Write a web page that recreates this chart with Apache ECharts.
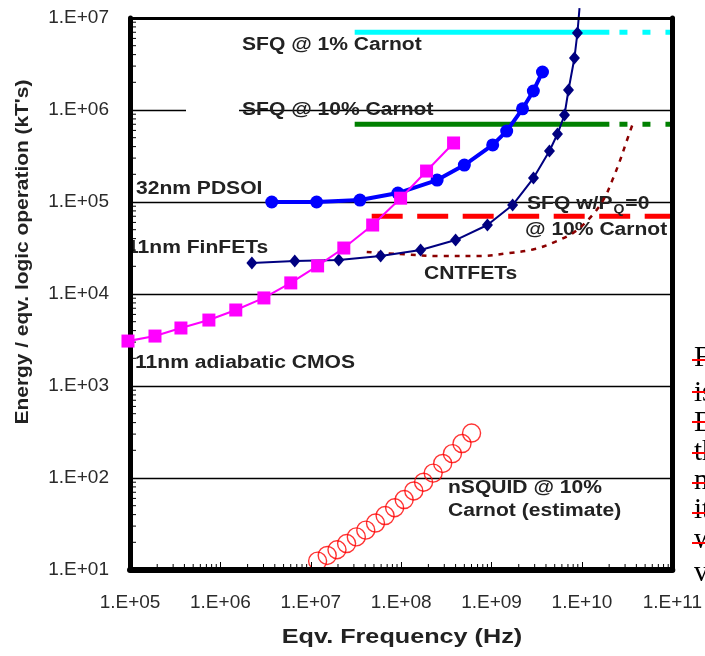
<!DOCTYPE html>
<html><head><meta charset="utf-8">
<script src="https://cdn.jsdelivr.net/npm/echarts@6/dist/echarts.min.js"></script>
<style>html,body{margin:0;padding:0;background:#fff}#c{width:705px;height:656px}</style>
</head><body><div id="c"></div>
<script>
// ---- data ----
const xTickLabels = ['1.E+05','1.E+06','1.E+07','1.E+08','1.E+09','1.E+10','1.E+11'];
const yTickLabels = ['1.E+01','1.E+02','1.E+03','1.E+04','1.E+05','1.E+06','1.E+07'];

const pdsoiFreq   = [3.7e6, 1.16e7, 3.5e7, 9.2e7, 2.5e8, 5.0e8, 1.03e9, 1.47e9, 2.2e9, 2.9e9, 3.66e9];
const pdsoiEnergy = [1.0e5, 1.0e5, 1.05e5, 1.25e5, 1.73e5, 2.52e5, 4.17e5, 5.9e5, 1.03e6, 1.61e6, 2.59e6];

const finfetFreq   = [2.23e6, 6.65e6, 2.04e7, 5.93e7, 1.64e8, 4.0e8, 9.0e8, 1.71e9, 2.91e9, 4.37e9, 5.36e9, 6.41e9, 7.1e9, 8.26e9, 8.91e9];
const finfetEnergy = [2.17e4, 2.29e4, 2.34e4, 2.59e4, 3.01e4, 3.86e4, 5.62e4, 9.27e4, 1.82e5, 3.58e5, 5.48e5, 8.83e5, 1.65e6, 3.67e6, 6.87e6];
const finfetTail   = [9.4e9, 1.28e7];

const cmosFreq   = [9.5e4, 1.89e5, 3.66e5, 7.46e5, 1.48e6, 3.03e6, 6.01e6, 1.19e7, 2.32e7, 4.84e7, 9.86e7, 1.91e8, 3.8e8];
const cmosEnergy = [3.08e3, 3.49e3, 4.27e3, 5.21e3, 6.7e3, 9.06e3, 1.32e4, 2.02e4, 3.16e4, 5.62e4, 1.1e5, 2.17e5, 4.38e5];

const cntFreq   = [4.16e7, 9.6e7, 2.66e8, 7.4e8, 1.58e9, 3.0e9, 4.97e9, 8.26e9, 1.31e10, 1.77e10, 2.17e10, 2.6e10, 3.1e10, 3.71e10];
const cntEnergy = [2.86e4, 2.72e4, 2.59e4, 2.59e4, 2.79e4, 3.08e4, 3.67e4, 4.72e4, 7.23e4, 1.1e5, 1.73e5, 2.72e5, 4.49e5, 7.41e5];

const nsquidFreq   = [1.19e7, 1.52e7, 1.95e7, 2.49e7, 3.19e7, 4.06e7, 5.2e7, 6.64e7, 8.47e7, 1.08e8, 1.38e8, 1.77e8, 2.26e8, 2.88e8, 3.69e8, 4.71e8, 6.01e8];
const nsquidEnergy = [12.5, 14.4, 16.6, 19.4, 22.9, 27.1, 32.4, 39.1, 47.5, 58.3, 72.3, 90, 113, 144, 184, 237, 308];

const sfq1Level = 7e6, sfq10Level = 7e5, sfqPq0Level = 7e4;
const sfqSolidFreq = [3.06e7, 2.01e10];
const sfqDashFreq  = [2.6e10, 1e11];
const sfqPq0Freq   = [4.72e7, 1e11];

// ---- helpers ----
const pair = (xs, ys) => xs.map((x, i) => [x, ys[i]]);
const expLabel = (labels, base) => v => labels[Math.round(Math.log10(v)) - base] || '';
const yMinor = [], xMinor = [];
for (let d = 1; d < 7; d++) for (let m = 2; m < 10; m++) yMinor.push(m * Math.pow(10, d));
for (let d = 5; d < 11; d++) for (let m = 2; m < 10; m++) xMinor.push(m * Math.pow(10, d));

const mctx = document.createElement('canvas').getContext('2d');
const tw = (t, f) => { mctx.font = f; return mctx.measureText(t).width; };

const BF = 'bold 18px "Liberation Sans", Arial, sans-serif';
const SX = 1.17;
const TXT = '#222';
function label(text, x, y, opts) {
  return Object.assign({
    type: 'text', x: x, y: y, scaleX: SX, z: 3,
    style: { text: text, font: BF, fill: TXT, textAlign: 'left', align: 'left', textVerticalAlign: 'middle', verticalAlign: 'middle' }
  }, opts || {});
}

const graphics = [
  { type: 'rect', shape: { x: 186, y: 107, width: 53, height: 6 }, style: { fill: '#fff' }, z: 1 },
  label('SFQ @ 1% Carnot', 242, 45),
  label('SFQ @ 10% Carnot', 242, 110),
  label('32nm PDSOI', 136, 189),
  label('11nm FinFETs', 127, 248),
  label('11nm adiabatic CMOS', 135, 363),
  label('CNTFETs', 424, 274),
  label('@ 10% Carnot', 525, 230),
  label('nSQUID @ 10%', 448, 488),
  label('Carnot (estimate)', 448, 511)
];
// SFQ w/PQ=0 with subscript
(function () {
  const x0 = 527, y0 = 204;
  const w1 = tw('SFQ w/P', BF) * SX;
  const SF = 'bold 12px "Liberation Sans", Arial, sans-serif';
  const wq = tw('Q', SF) * SX;
  graphics.push(label('SFQ w/P', x0, y0));
  graphics.push({ type: 'text', x: x0 + w1 + 1, y: y0 + 6, scaleX: SX, z: 3,
    style: { text: 'Q', font: SF, fill: TXT, textAlign: 'left', align: 'left', textVerticalAlign: 'middle', verticalAlign: 'middle' } });
  graphics.push(label('=0', x0 + w1 + wq + 2, y0));
})();
// axis titles
graphics.push({ type: 'text', x: 23, y: 252, rotation: Math.PI / 2, scaleX: 1.1, z: 3,
  style: { text: "Energy / eqv. logic operation (kT's)", font: 'bold 19px "Liberation Sans", Arial, sans-serif', fill: TXT,
    textAlign: 'center', align: 'center', textVerticalAlign: 'middle', verticalAlign: 'middle' } });
graphics.push({ type: 'text', x: 402, y: 637, scaleX: 1.26, z: 3,
  style: { text: 'Eqv. Frequency (Hz)', font: 'bold 20px "Liberation Sans", Arial, sans-serif', fill: TXT,
    textAlign: 'center', align: 'center', textVerticalAlign: 'middle', verticalAlign: 'middle' } });
// fragment of document text at the right edge (baseline, strike y)
const docRows = [['F', 368, 360], ['is', 403, 392], ['E', 433, 422], ['th', 462, 453], ['n', 491, 483], ['it', 520, 513], ['w', 550, 543], ['v', 583, null]];
docRows.forEach(r => {
  graphics.push({ type: 'text', x: 694, y: r[1] - 10, z: 3,
    style: { text: r[0], font: '29px "Liberation Serif", "Times New Roman", serif', fill: '#000', textAlign: 'left', align: 'left', textVerticalAlign: 'middle', verticalAlign: 'middle' } });
  if (r[2] !== null) graphics.push({ type: 'line', shape: { x1: 692, y1: r[2], x2: 705, y2: r[2] }, style: { stroke: '#ff0000', lineWidth: 2 }, z: 4 });
});

const chart = echarts.init(document.getElementById('c'), null, { renderer: 'canvas' });
const axisFont = { fontSize: 19, fontFamily: '"Liberation Sans", Arial, sans-serif', color: '#2a2a2a' };

const option = {
  animation: false,
  backgroundColor: '#fff',
  grid: { left: 130, right: 32, top: 18, bottom: 86 },
  xAxis: [
    { type: 'log', min: 1e5, max: 1e11, position: 'bottom', z: 6,
      axisLine: { show: true, lineStyle: { color: '#000', width: 6 } },
      axisTick: { show: true, inside: true, length: 8, lineStyle: { color: '#000', width: 1 } },
      axisLabel: Object.assign({ formatter: expLabel(xTickLabels, 5), margin: 23, showMinLabel: true, showMaxLabel: true }, axisFont),
      splitLine: { show: false }, minorTick: { show: false } },
    { type: 'log', min: 1e5, max: 1e11, position: 'top', z: 6,
      axisLine: { show: true, lineStyle: { color: '#000', width: 3 } },
      axisTick: { show: false }, axisLabel: { show: false }, splitLine: { show: false } }
  ],
  yAxis: [
    { type: 'log', min: 10, max: 1e7, position: 'left', z: 0,
      axisLine: { show: false }, axisTick: { show: false }, axisLabel: { show: false },
      splitLine: { show: true, lineStyle: { color: '#000', width: 1.3 } } },
    { type: 'log', min: 10, max: 1e7, position: 'left', z: 6,
      axisLine: { show: true, lineStyle: { color: '#000', width: 5 } },
      axisTick: { show: true, inside: true, length: 8, lineStyle: { color: '#000', width: 1 } },
      axisLabel: Object.assign({ formatter: expLabel(yTickLabels, 1), margin: 21, showMinLabel: true, showMaxLabel: true }, axisFont),
      splitLine: { show: false } },
    { type: 'log', min: 10, max: 1e7, position: 'right', z: 6,
      axisLine: { show: true, lineStyle: { color: '#000', width: 5 } },
      axisTick: { show: false }, axisLabel: { show: false }, splitLine: { show: false } }
  ],
  graphic: { elements: graphics },
  series: [
    // minor ticks
    { type: 'custom', silent: true, z: 6, data: yMinor.map(v => [1e5, v]),
      renderItem: (p, api) => { const c = api.coord([api.value(0), api.value(1)]);
        return { type: 'line', shape: { x1: c[0], y1: c[1], x2: c[0] + 6, y2: c[1] }, style: { stroke: '#000', lineWidth: 1 } }; } },
    { type: 'custom', silent: true, z: 6, data: xMinor.map(v => [v, 10]),
      renderItem: (p, api) => { const c = api.coord([api.value(0), api.value(1)]);
        return { type: 'line', shape: { x1: c[0], y1: c[1], x2: c[0], y2: c[1] - 6 }, style: { stroke: '#000', lineWidth: 1 } }; } },
    // SFQ levels
    { name: 'SFQ @ 1% Carnot', type: 'line', z: 2, symbol: 'none', data: sfqSolidFreq.map(f => [f, sfq1Level]),
      lineStyle: { color: '#00FFFF', width: 5 } },
    { type: 'line', z: 2, symbol: 'none', data: sfqDashFreq.map(f => [f, sfq1Level]),
      lineStyle: { color: '#00FFFF', width: 5, type: [8, 15] } },
    { name: 'SFQ @ 10% Carnot', type: 'line', z: 2, symbol: 'none', data: sfqSolidFreq.map(f => [f, sfq10Level]),
      lineStyle: { color: '#008000', width: 5 } },
    { type: 'line', z: 2, symbol: 'none', data: sfqDashFreq.map(f => [f, sfq10Level]),
      lineStyle: { color: '#008000', width: 5, type: [8, 15] } },
    { name: 'SFQ w/PQ=0 @ 10% Carnot', type: 'line', z: 2, symbol: 'none', data: sfqPq0Freq.map(f => [f, sfqPq0Level]),
      lineStyle: { color: '#FF0000', width: 5, type: [31, 14.5] } },
    // CNTFETs
    { name: 'CNTFETs', type: 'line', z: 3, symbol: 'none', smooth: 0.35, data: pair(cntFreq, cntEnergy),
      lineStyle: { color: '#8B0000', width: 2.5, type: [5, 6] } },
    // nSQUID
    { name: 'nSQUID', type: 'scatter', z: 4, symbol: 'circle', symbolSize: 18, data: pair(nsquidFreq, nsquidEnergy),
      itemStyle: { color: 'rgba(255,255,255,0)', borderColor: '#FF0000', borderWidth: 1.4 } },
    // 11nm FinFETs
    { name: '11nm FinFETs', type: 'line', z: 5, clip: false, symbol: 'diamond', symbolSize: [11, 13],
      data: pair(finfetFreq, finfetEnergy).concat([{ value: finfetTail, symbol: 'none' }]),
      lineStyle: { color: '#000080', width: 2 }, itemStyle: { color: '#000080' } },
    // 32nm PDSOI
    { name: '32nm PDSOI', type: 'line', z: 5, clip: false, symbol: 'circle', symbolSize: 13, data: pair(pdsoiFreq, pdsoiEnergy),
      lineStyle: { color: '#0000FF', width: 4 }, itemStyle: { color: '#0000FF' } },
    // 11nm adiabatic CMOS
    { name: '11nm adiabatic CMOS', type: 'line', z: 7, clip: false, symbol: 'rect', symbolSize: 13, data: pair(cmosFreq, cmosEnergy),
      lineStyle: { color: '#FF00FF', width: 2 }, itemStyle: { color: '#FF00FF' } }
  ]
};
chart.setOption(option);
</script></body></html>
